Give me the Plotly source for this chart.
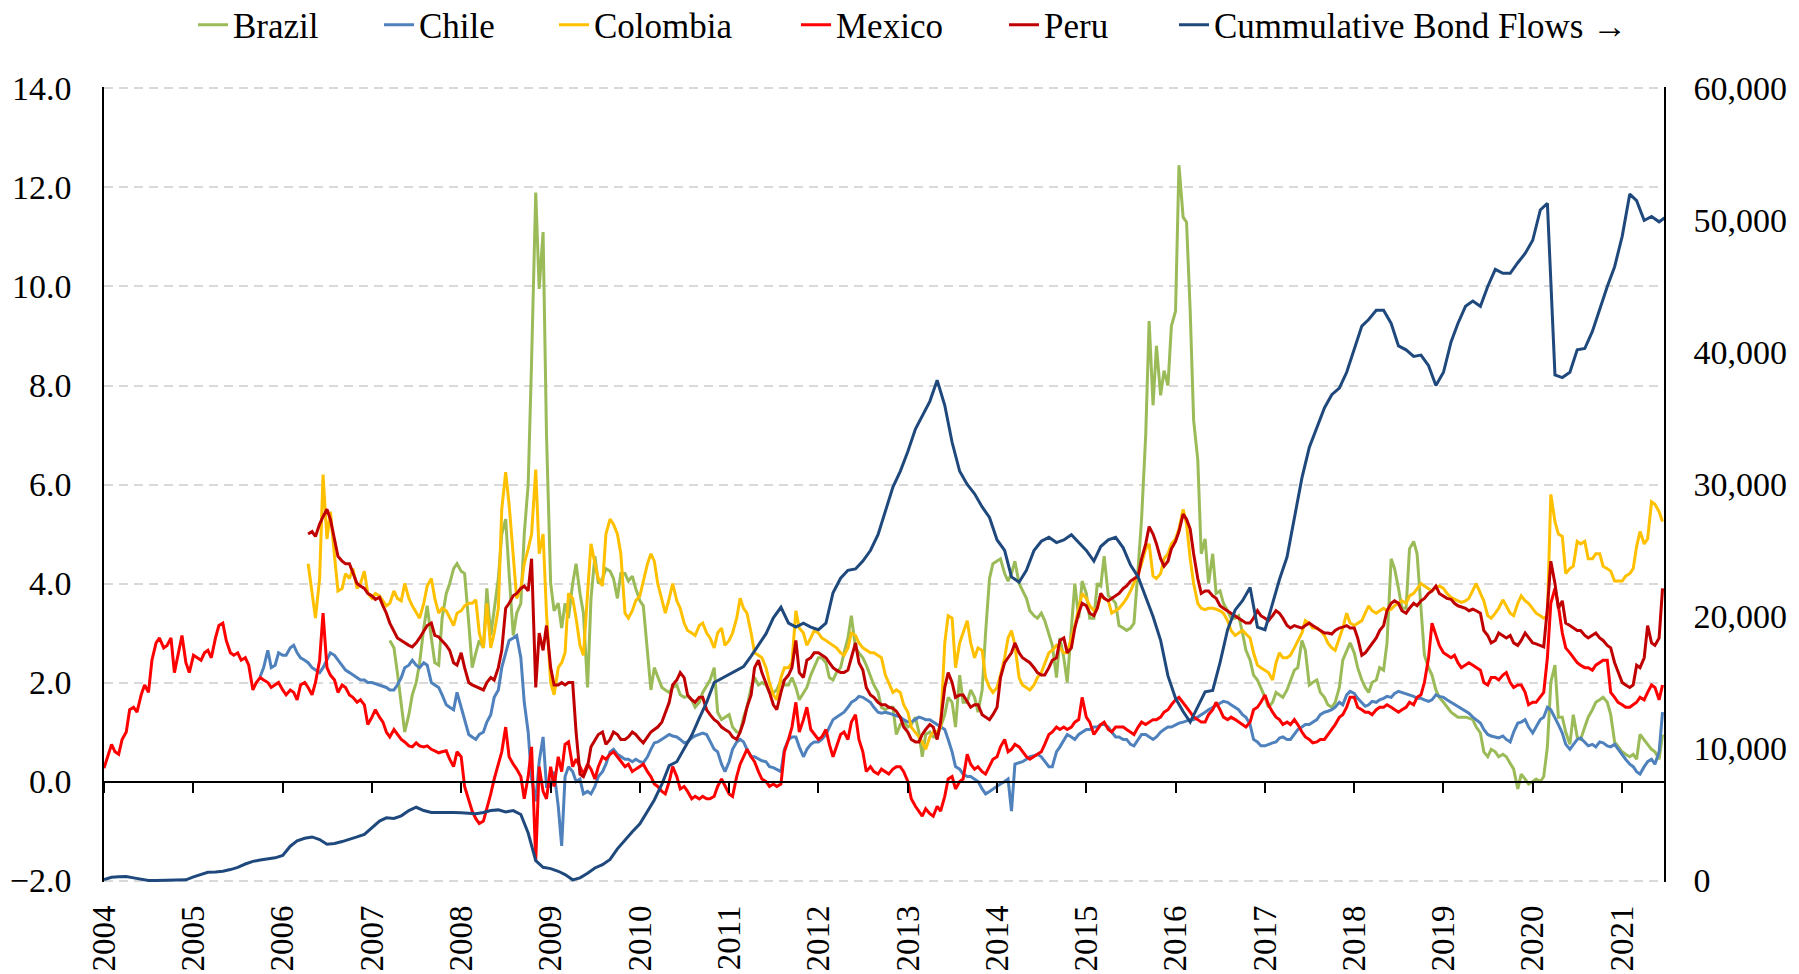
import pandas as pd
import plotly.graph_objects as go

# ---------------- data ----------------
# semi-monthly observations (1st and 15th of each month)
MEXICO_START = "2004-01-01"
MEXICO = [
    0.27, 0.47, 0.75, 0.6, 0.55, 0.85, 1.0, 1.45, 1.5, 1.4, 1.75, 1.95, 1.8, 2.45, 2.8, 2.9, 2.7, 2.75, 2.9, 2.2, 2.6, 2.95, 2.4, 2.2,
    2.55, 2.5, 2.45, 2.6, 2.65, 2.5, 2.9, 3.15, 3.2, 2.85, 2.6, 2.55, 2.6, 2.45, 2.5, 2.35, 1.85, 2.0, 2.1, 2.05, 2.0, 1.9, 1.95, 2.0,
    1.85, 1.75, 1.85, 1.8, 1.65, 1.95, 2.0, 1.9, 1.75, 2.0, 2.45, 3.4, 2.3, 2.15, 2.05, 1.8, 1.95, 1.9, 1.75, 1.7, 1.6, 1.65, 1.55, 1.15,
    1.3, 1.45, 1.3, 1.2, 1.0, 0.9, 1.05, 0.95, 0.85, 0.8, 0.72, 0.7, 0.78, 0.72, 0.7, 0.72, 0.65, 0.62, 0.58, 0.6, 0.62, 0.45, 0.3, 0.6,
    0.5, -0.1, -0.4, -0.6, -0.75, -0.85, -0.8, -0.55, -0.25, 0.05, 0.35, 0.6, 1.1, 0.5, 0.35, 0.25, 0.1, -0.35, 0.1, 0.7, -1.6, 0.3, -0.2, -0.35,
    0.3, -0.1, 0.5, 0.2, 0.75, 0.8, 0.3, 0.45, 0.3, 0.15, 0.35, 0.25, 0.05, 0.3, 0.5, 0.45, 0.55, 0.6, 0.5, 0.4, 0.3, 0.35, 0.2, 0.25,
    0.3, 0.35, 0.2, 0.1, -0.05, -0.1, -0.2, -0.25, 0.0, 0.3, 0.1, -0.15, -0.1, -0.2, -0.35, -0.3, -0.35, -0.3, -0.35, -0.35, -0.3, -0.1, 0.05, -0.1,
    -0.25, -0.3, 0.1, 0.35, 0.5, 0.65, 0.5, 0.4, 0.2, 0.05, 0.0, -0.1, -0.05, -0.1, -0.05, 0.6, 0.85, 1.1, 1.6, 1.0, 1.25, 1.5, 1.05, 0.95,
    0.85, 0.9, 1.05, 0.75, 0.5, 0.7, 0.95, 1.0, 0.85, 1.2, 1.35, 0.85, 0.6, 0.2, 0.3, 0.2, 0.15, 0.25, 0.2, 0.15, 0.25, 0.3, 0.3, 0.2,
    0.0, -0.35, -0.5, -0.6, -0.7, -0.55, -0.65, -0.7, -0.5, -0.6, -0.3, 0.05, 0.1, -0.15, 0.0, 0.05, 0.55, 0.35, 0.25, 0.3, 0.2, 0.15, 0.3, 0.45,
    0.5, 0.7, 0.85, 0.6, 0.65, 0.75, 0.7, 0.6, 0.5, 0.45, 0.5, 0.55, 0.6, 0.75, 0.95, 1.0, 1.1, 1.05, 1.1, 1.05, 1.1, 1.2, 1.25, 1.7,
    1.3, 1.2, 0.95, 1.05, 1.15, 1.2, 1.05, 1.0, 1.1, 1.1, 1.1, 1.05, 1.0, 0.95, 1.1, 1.2, 1.15, 1.2, 1.25, 1.25, 1.3, 1.4, 1.45, 1.55,
    1.65, 1.7, 1.6, 1.5, 1.4, 1.3, 1.25, 1.2, 1.2, 1.35, 1.45, 1.6, 1.45, 1.3, 1.25, 1.3, 1.25, 1.2, 1.15, 1.1, 1.2, 1.45, 1.5, 1.6,
    1.75, 1.55, 1.4, 1.3, 1.25, 1.15, 1.2, 1.15, 1.25, 1.15, 1.0, 0.9, 0.85, 0.78, 0.8, 0.85, 0.85, 0.95, 1.05, 1.15, 1.3, 1.35, 1.5, 1.7,
    1.7, 1.5, 1.45, 1.4, 1.4, 1.35, 1.45, 1.5, 1.5, 1.55, 1.5, 1.45, 1.4, 1.45, 1.5, 1.6, 1.55, 1.7, 1.75, 2.0, 2.5, 3.2, 2.95, 2.75,
    2.6, 2.55, 2.5, 2.55, 2.4, 2.3, 2.35, 2.4, 2.35, 2.3, 2.25, 2.0, 1.95, 2.1, 2.1, 2.05, 2.15, 2.2, 2.0, 1.9, 1.95, 1.95, 1.8, 1.55,
    1.6, 1.6, 1.7, 1.8, 2.5, 3.6, 3.9, 3.55, 3.0, 2.7, 2.6, 2.5, 2.4, 2.35, 2.3, 2.3, 2.25, 2.35, 2.4, 2.45, 2.45, 1.8, 1.7, 1.6,
    1.55, 1.5, 1.5, 1.55, 1.6, 1.7, 1.65, 1.8, 1.95, 1.9, 1.65, 1.95,
]

CHILE_START = "2005-10-01"
CHILE = [
    2.12, 2.3, 2.65, 2.3, 2.35, 2.6,
    2.55, 2.55, 2.7, 2.75, 2.6, 2.5, 2.45, 2.4, 2.3, 2.25, 2.2, 2.3, 2.45, 2.6, 2.55, 2.45, 2.35, 2.25, 2.2, 2.15, 2.1, 2.05, 2.05, 2.0,
    2.0, 1.98, 1.95, 1.92, 1.9, 1.85, 1.85, 1.95, 2.1, 2.3, 2.35, 2.45, 2.35, 2.3, 2.4, 2.35, 2.0, 1.95, 1.9, 1.75, 1.55, 1.5, 1.45, 1.8,
    1.5, 1.2, 0.95, 0.9, 0.85, 0.95, 1.0, 1.2, 1.35, 1.7, 1.85, 2.3, 2.6, 2.85, 2.9, 2.95, 2.5, 1.6, 1.0, 0.05, -0.4, 0.4, 0.9, -0.1,
    -0.1, 0.2, -0.5, -1.3, 0.1, 0.3, 0.2, 0.0, 0.05, -0.25, -0.2, -0.25, -0.1, 0.1, 0.2, 0.35, 0.6, 0.65, 0.55, 0.5, 0.45, 0.45, 0.4, 0.45,
    0.4, 0.38, 0.5, 0.65, 0.78, 0.8, 0.85, 0.9, 0.95, 0.92, 0.9, 0.85, 0.78, 0.8, 0.88, 0.92, 0.95, 0.98, 0.95, 0.8, 0.65, 0.6, 0.35, 0.2,
    0.4, 0.65, 0.8, 0.85, 0.8, 0.65, 0.5, 0.5, 0.45, 0.42, 0.4, 0.3, 0.28, 0.25, 0.2, 0.65, 0.85, 0.9, 0.9, 0.7, 0.5, 0.65, 0.75, 0.8,
    0.8, 0.85, 0.95, 1.1, 1.25, 1.3, 1.35, 1.4, 1.5, 1.6, 1.65, 1.72, 1.7, 1.65, 1.6, 1.5, 1.4, 1.38, 1.4, 1.38, 1.35, 1.32, 1.3, 1.25,
    1.2, 1.2, 1.25, 1.3, 1.28, 1.25, 1.25, 1.2, 1.15, 1.1, 1.05, 0.85, 0.6, 0.3, 0.25, 0.15, 0.1, 0.1, 0.05, 0.0, -0.15, -0.25, -0.2, -0.15,
    -0.1, -0.05, 0.0, 0.05, -0.6, 0.35, 0.38, 0.4, 0.45, 0.5, 0.52, 0.55, 0.5, 0.42, 0.3, 0.3, 0.6, 0.7, 0.85, 0.95, 0.9, 0.85, 0.95, 1.0,
    1.05, 1.05, 1.1, 1.1, 1.15, 1.15, 1.1, 1.0, 0.9, 0.9, 0.85, 0.85, 0.75, 0.72, 0.85, 0.95, 0.95, 0.9, 0.85, 0.9, 1.0, 1.05, 1.1, 1.1,
    1.15, 1.18, 1.2, 1.22, 1.25, 1.25, 1.3, 1.35, 1.4, 1.45, 1.5, 1.55, 1.58, 1.62, 1.6, 1.55, 1.5, 1.45, 1.35, 1.3, 1.15, 0.85, 0.8, 0.72,
    0.72, 0.75, 0.78, 0.8, 0.88, 0.9, 0.85, 0.85, 0.95, 1.05, 1.1, 1.15, 1.15, 1.2, 1.25, 1.35, 1.4, 1.42, 1.45, 1.5, 1.6, 1.55, 1.75, 1.82,
    1.78, 1.68, 1.6, 1.52, 1.55, 1.62, 1.6, 1.65, 1.68, 1.72, 1.7, 1.78, 1.82, 1.8, 1.78, 1.75, 1.72, 1.68, 1.68, 1.65, 1.62, 1.65, 1.75, 1.72,
    1.7, 1.65, 1.6, 1.55, 1.52, 1.48, 1.42, 1.38, 1.3, 1.25, 1.18, 1.05, 0.95, 0.92, 0.9, 0.88, 0.92, 0.85, 0.8, 1.0, 1.18, 1.2, 1.25, 1.1,
    0.98, 1.1, 1.25, 1.3, 1.5, 1.45, 1.3, 1.15, 0.98, 0.75, 0.65, 0.75, 0.85, 0.88, 0.8, 0.72, 0.75, 0.7, 0.8, 0.78, 0.72, 0.7, 0.75, 0.65,
    0.55, 0.45, 0.35, 0.3, 0.2, 0.15, 0.3, 0.4, 0.45, 0.35, 0.6, 1.4,
]

COLOMBIA_START = "2006-04-15"
COLOMBIA = [
    4.4, 3.75, 3.3, 4.1, 6.2, 4.9, 5.45, 4.55, 3.85, 3.9, 4.2, 4.1, 4.3, 3.9, 4.0, 4.25, 3.8,
    3.7, 3.8, 3.75, 3.65, 3.55, 3.6, 3.85, 3.7, 3.65, 4.0, 3.7, 3.55, 3.4, 3.3, 3.6, 3.95, 4.1, 3.7, 3.4, 3.5, 3.45, 3.3, 3.15, 3.4,
    3.45, 3.55, 3.6, 3.6, 3.67, 3.0, 2.7, 3.6, 2.7, 3.0, 3.5, 5.5, 6.25, 5.6, 4.5, 3.7, 3.9, 4.4, 4.7, 5.0, 6.3, 4.6, 5.0, 3.4,
    2.0, 1.75, 2.3, 2.4, 2.6, 3.8, 3.7, 3.3, 2.75, 2.55, 3.8, 4.8, 4.4, 4.1, 3.95, 5.0, 5.3, 5.2, 5.0, 4.6, 3.4, 3.3, 3.45, 3.65,
    3.75, 4.05, 4.4, 4.6, 4.45, 4.0, 3.7, 3.4, 3.7, 4.0, 3.65, 3.5, 3.2, 3.05, 3.0, 2.95, 3.15, 3.2, 3.0, 2.9, 2.7, 3.0, 3.1, 2.75,
    2.85, 3.0, 3.3, 3.7, 3.5, 3.4, 3.0, 2.6, 2.55, 2.5, 2.3, 2.0, 1.75, 1.65, 2.1, 2.3, 2.3, 2.4, 3.45, 3.1, 3.0, 2.75, 2.9, 3.05,
    3.0, 2.9, 2.85, 2.8, 2.75, 2.7, 2.6, 2.55, 2.7, 3.0, 2.95, 2.8, 2.7, 2.65, 2.6, 2.6, 2.55, 2.5, 2.15, 2.0, 1.8, 1.85, 1.8, 1.55,
    1.4, 1.1, 1.0, 0.9, 0.8, 0.65, 0.9, 1.0, 1.0, 1.1, 2.8, 3.35, 3.3, 2.3, 2.8, 3.0, 3.25, 2.8, 2.5, 2.7, 2.65, 2.1, 1.9, 1.8,
    1.9, 2.15, 2.5, 2.9, 3.05, 2.75, 2.1, 1.95, 1.9, 1.85, 1.95, 2.1, 2.2, 2.4, 2.6, 2.65, 2.75, 2.7, 2.6, 2.6, 2.9, 3.15, 3.5, 3.8,
    3.7, 3.55, 3.45, 3.5, 3.75, 3.7, 3.65, 3.4, 3.45, 3.5, 3.6, 3.7, 3.85, 4.0, 4.2, 4.4, 4.7, 4.8, 4.15, 4.1, 4.2, 4.5, 4.6, 4.8,
    4.9, 5.1, 5.5, 5.2, 4.5, 4.0, 3.6, 3.5, 3.47, 3.5, 3.5, 3.48, 3.45, 3.4, 3.25, 3.05, 2.95, 3.0, 3.05, 2.98, 2.9, 2.6, 2.35, 2.3,
    2.25, 2.2, 2.05, 2.4, 2.6, 2.5, 2.5, 2.55, 2.7, 2.85, 3.0, 3.25, 3.2, 3.1, 3.1, 3.05, 2.95, 2.8, 2.7, 2.65, 2.9, 3.1, 3.4, 3.2,
    3.15, 3.2, 3.25, 3.4, 3.55, 3.45, 3.4, 3.45, 3.5, 3.45, 3.48, 3.55, 3.6, 3.65, 3.6, 3.75, 3.8, 3.9, 4.0, 3.95, 3.9, 3.85, 3.92, 3.95,
    3.9, 3.8, 3.72, 3.68, 3.65, 3.62, 3.65, 3.7, 3.85, 4.0, 3.8, 3.65, 3.35, 3.3, 3.4, 3.5, 3.67, 3.55, 3.4, 3.35, 3.6, 3.75, 3.65, 3.6,
    3.5, 3.4, 3.35, 3.3, 3.35, 5.8, 5.25, 5.0, 4.95, 4.2, 4.3, 4.35, 4.85, 4.8, 4.85, 4.5, 4.5, 4.6, 4.6, 4.35, 4.3, 4.25, 4.05, 4.05,
    4.05, 4.15, 4.2, 4.3, 4.75, 5.05, 4.8, 4.9, 5.65, 5.6, 5.45, 5.25,
]

PERU_START = "2006-04-15"
PERU = [
    5.0, 5.05, 4.95, 5.2, 5.35, 5.5, 5.3, 4.9, 4.55, 4.45, 4.4, 4.4, 4.2, 4.0, 3.95, 3.9, 3.8,
    3.75, 3.68, 3.72, 3.55, 3.4, 3.2, 3.05, 2.9, 2.85, 2.8, 2.75, 2.72, 2.8, 2.9, 3.05, 3.15, 3.2, 2.95, 2.92, 2.85, 2.75, 2.65, 2.4, 2.35,
    2.6, 2.3, 2.0, 1.95, 1.92, 1.88, 1.85, 2.0, 2.1, 2.05, 2.3, 2.65, 3.5, 3.6, 3.75, 3.8, 3.9, 3.95, 3.85, 4.5, 1.9, 3.0, 2.65, 3.15,
    2.3, 1.95, 1.95, 2.0, 1.95, 2.0, 2.0, 1.0, 0.15, 0.1, 0.3, 0.7, 0.85, 0.95, 1.0, 0.75, 0.85, 1.0, 0.95, 0.85, 0.85, 0.9, 1.0, 0.95,
    0.85, 0.78, 0.9, 1.0, 1.05, 1.1, 1.2, 1.4, 1.6, 1.95, 2.05, 2.2, 2.1, 1.75, 1.65, 1.6, 1.7, 1.7, 1.45, 1.35, 1.25, 1.2, 1.1, 1.05,
    1.0, 0.9, 0.85, 1.0, 1.2, 1.5, 1.75, 2.3, 2.45, 2.2, 2.0, 1.8, 1.55, 1.45, 1.8, 2.05, 2.15, 2.3, 2.85, 2.2, 2.1, 2.45, 2.5, 2.6,
    2.6, 2.55, 2.5, 2.4, 2.3, 2.25, 2.2, 2.2, 2.25, 2.5, 2.8, 2.4, 2.25, 1.9, 1.75, 1.7, 1.6, 1.55, 1.55, 1.5, 1.48, 1.42, 1.3, 1.1,
    1.0, 0.85, 0.8, 0.8, 0.95, 1.05, 1.15, 1.1, 0.85, 1.2, 1.9, 2.2, 2.0, 1.7, 1.75, 1.75, 1.6, 1.5, 1.55, 1.55, 1.35, 1.3, 1.25, 1.35,
    1.5, 2.1, 2.4, 2.5, 2.6, 2.8, 2.6, 2.5, 2.45, 2.4, 2.3, 2.2, 2.15, 2.15, 2.3, 2.45, 2.5, 2.85, 2.9, 2.6, 2.7, 3.1, 3.4, 3.6,
    3.55, 3.4, 3.35, 3.5, 3.8, 3.7, 3.65, 3.7, 3.75, 3.8, 3.9, 3.95, 4.05, 4.1, 4.15, 4.5, 4.8, 5.15, 5.0, 4.8, 4.5, 4.35, 4.45, 4.7,
    4.85, 5.05, 5.4, 5.3, 5.1, 4.6, 4.1, 3.8, 3.85, 3.85, 3.75, 3.7, 3.55, 3.5, 3.45, 3.4, 3.35, 3.3, 3.25, 3.2, 3.2, 3.3, 3.45, 3.35,
    3.3, 3.25, 3.35, 3.45, 3.4, 3.3, 3.15, 3.1, 3.15, 3.12, 3.1, 3.15, 3.2, 3.15, 3.1, 3.05, 3.0, 3.0, 2.98, 3.05, 3.1, 3.12, 3.15, 3.1,
    3.1, 2.9, 2.55, 2.6, 2.7, 2.8, 2.9, 3.05, 3.15, 3.45, 3.6, 3.65, 3.6, 3.45, 3.4, 3.5, 3.6, 3.55, 3.65, 3.7, 3.8, 3.85, 3.95, 3.8,
    3.75, 3.7, 3.68, 3.6, 3.55, 3.52, 3.5, 3.45, 3.48, 3.45, 3.4, 3.05, 2.95, 2.8, 2.85, 3.0, 2.95, 2.9, 2.95, 2.8, 2.75, 2.85, 3.0, 2.9,
    2.8, 2.78, 2.75, 2.72, 3.5, 4.45, 4.0, 3.5, 3.65, 3.2, 3.15, 3.1, 3.05, 3.05, 2.95, 2.9, 2.95, 3.0, 2.9, 2.85, 2.75, 2.7, 2.4, 2.2,
    2.0, 1.95, 1.9, 1.95, 2.35, 2.3, 2.5, 3.15, 2.8, 2.75, 2.9, 3.9,
]

BRAZIL_START = "2007-03-15"
BRAZIL = [
    2.85, 2.7, 2.2, 1.5, 1.0, 1.35, 1.75, 2.0, 2.4, 3.1, 3.55, 2.9, 2.4, 2.35, 3.3, 3.8, 4.0, 4.3, 4.4,
    4.25, 4.2, 3.2, 2.3, 2.6, 2.85, 2.7, 3.9, 2.95, 3.5, 4.1, 5.0, 5.3, 4.2, 2.95, 3.4, 3.6, 5.0, 6.0, 8.5, 11.9, 9.95, 11.1, 7.0,
    4.0, 3.45, 3.6, 3.1, 3.6, 3.3, 4.0, 4.4, 3.8, 3.4, 1.9, 3.7, 4.55, 4.0, 4.1, 4.3, 4.25, 4.1, 3.7, 4.2, 4.2, 4.05, 4.15, 3.9,
    3.65, 3.55, 2.6, 1.85, 2.3, 2.1, 1.9, 1.85, 1.8, 1.9, 1.95, 1.75, 1.7, 1.72, 1.65, 1.5, 1.6, 1.8, 1.95, 2.05, 2.3, 1.4, 1.25, 1.3,
    1.35, 1.1, 1.0, 1.0, 1.3, 1.5, 1.9, 2.1, 1.95, 2.0, 1.95, 1.8, 1.8, 1.85, 2.05, 1.95, 1.95, 2.1, 1.9, 1.65, 1.8, 1.9, 2.15, 2.3,
    2.5, 2.5, 2.4, 2.1, 2.05, 2.2, 2.3, 2.6, 2.9, 3.35, 2.7, 2.6, 2.5, 2.35, 2.15, 1.95, 1.8, 1.5, 1.45, 1.5, 1.5, 0.95, 1.15, 1.2,
    1.1, 1.15, 1.3, 1.0, 0.5, 0.95, 1.0, 0.9, 0.9, 1.1, 1.35, 1.7, 1.6, 1.1, 2.15, 1.6, 1.6, 1.85, 1.7, 1.4, 1.85, 3.0, 4.1, 4.4,
    4.45, 4.5, 4.2, 4.05, 4.2, 4.45, 4.0, 3.85, 3.7, 3.45, 3.35, 3.3, 3.4, 3.25, 3.0, 2.75, 2.1, 2.9, 2.5, 2.0, 3.1, 4.0, 3.3, 4.05,
    3.8, 3.3, 3.3, 4.0, 3.95, 4.55, 3.75, 3.7, 3.6, 3.15, 3.1, 3.05, 3.1, 3.2, 4.3, 5.3, 7.0, 9.3, 7.6, 8.8, 7.8, 8.3, 8.0, 9.2,
    9.5, 12.45, 11.4, 11.3, 9.5, 7.3, 6.5, 4.6, 4.9, 4.0, 4.6, 3.8, 3.85, 3.6, 3.45, 3.3, 3.3, 3.35, 3.0, 2.65, 2.45, 2.15, 2.05, 1.9,
    1.7, 1.5, 1.6, 1.8, 1.75, 1.7, 1.85, 2.05, 2.25, 2.3, 2.85, 2.65, 1.95, 2.0, 2.05, 1.8, 1.7, 1.55, 1.5, 1.6, 1.9, 2.45, 2.65, 2.8,
    2.6, 2.3, 2.05, 1.9, 1.8, 2.0, 2.05, 2.3, 2.25, 2.8, 4.5, 4.3, 3.9, 3.5, 3.5, 4.7, 4.85, 4.6, 3.5, 2.55, 2.3, 2.15, 1.85, 1.7,
    1.6, 1.5, 1.4, 1.35, 1.3, 1.3, 1.3, 1.28, 1.25, 1.1, 0.98, 0.6, 0.5, 0.65, 0.6, 0.5, 0.55, 0.5, 0.35, 0.25, -0.15, 0.15, 0.05, -0.05,
    0.0, 0.05, 0.0, 0.1, 0.7, 2.0, 2.35, 1.3, 1.3, 1.0, 0.75, 1.35, 0.9, 0.85, 1.1, 1.3, 1.45, 1.6, 1.65, 1.7, 1.6, 1.35, 0.8, 0.7,
    0.6, 0.55, 0.5, 0.55, 0.45, 0.95, 0.85, 0.75, 0.65, 0.6, 0.45, 0.95,
]

# monthly observations (1st of each month), right axis
CUM_START = "2004-01-01"
CUM_FLOWS = [
    80, 250, 280, 300, 200, 80, 0, 0, 0, 0, 0, 50,
    280, 450, 620, 650, 700, 830, 1000, 1250, 1450, 1550, 1650, 1720,
    1900, 2600, 3000, 3200, 3300, 3100, 2750, 2800, 2950, 3100, 3300, 3500,
    4000, 4500, 4750, 4700, 4900, 5300, 5550, 5300, 5150, 5150, 5200, 5150,
    5130, 5100, 5050, 5150, 5300, 5350, 5200, 5300, 5000, 3600, 1500, 1000,
    900, 700, 450, 50, 200, 550, 950, 1200, 1600, 2400, 3100, 3700,
    4300, 5200, 6100, 7300, 8700, 9000, 10000, 11000, 12300, 13500, 15000, 15300,
    15600, 15900, 16200, 17000, 17800, 18700, 19900, 20700, 19500, 19200, 19500, 19200,
    19000, 19500, 21800, 22900, 23500, 23600, 24200, 25000, 26200, 27900, 29800, 31000,
    32500, 34200, 35200, 36300, 37900, 36000, 33200, 31000, 30000, 29300, 28300, 27500,
    25800, 25000, 23000, 22600, 23500, 25000, 25700, 26000, 25600, 25800, 26200, 25600,
    25000, 24200, 25300, 25800, 26000, 25200, 23900, 23000, 21500, 20000, 18200, 15500,
    13800, 12800, 12000, 13200, 14300, 14400, 16500, 19000, 20500, 21200, 22200, 19200,
    19000, 21000, 22800, 24500, 27500, 30500, 32800, 34300, 35800, 36800, 37300, 38500,
    40300, 42000, 42500, 43200, 43200, 42200, 40500, 40200, 39700, 39800, 39000, 37500,
    38500, 40800, 42200, 43500, 43900, 43500, 45000, 46300, 46000, 46000, 46800, 47500,
    48500, 50800, 51300, 38300, 38100, 38500, 40200, 40300, 41600, 43300, 45000, 46500,
    48800, 52000, 51500, 50000, 50300, 49900, 50300,
]

YEARS = list(range(2004, 2022))
LEFT_TICKS = [-2, 0, 2, 4, 6, 8, 10, 12, 14]
RIGHT_TICKS = [0, 10000, 20000, 30000, 40000, 50000, 60000]
X_RANGE = ["2004-01-01", "2021-06-21"]

# ---------------- figure ----------------
FONT = "Liberation Serif, Times New Roman, DejaVu Serif, serif"
LW = 3
W, H = 1799, 974


def semi_monthly(start, vals):
    return pd.date_range(start, periods=len(vals), freq="SMS")


series = [
    ("Brazil", semi_monthly(BRAZIL_START, BRAZIL), BRAZIL, "#9BBB59", "y"),
    ("Chile", semi_monthly(CHILE_START, CHILE), CHILE, "#4F81BD", "y"),
    ("Colombia", semi_monthly(COLOMBIA_START, COLOMBIA), COLOMBIA, "#FFC000", "y"),
    ("Mexico", semi_monthly(MEXICO_START, MEXICO), MEXICO, "#FF0000", "y"),
    ("Peru", semi_monthly(PERU_START, PERU), PERU, "#C00000", "y"),
    ("Cummulative Bond Flows \u2192", pd.date_range(CUM_START, periods=len(CUM_FLOWS), freq="MS"),
     CUM_FLOWS, "#1F497D", "y2"),
]
# legend text start positions (px from the left of the page)
LEGEND_TEXT_X = [233, 419, 594, 836, 1044, 1214]

fig = go.Figure()
legend_layouts = {}
for i, (name, xs, vals, color, yax) in enumerate(series):
    key = "legend" if i == 0 else f"legend{i + 1}"
    fig.add_trace(go.Scatter(
        x=xs, y=vals, name=name, mode="lines",
        line=dict(color=color, width=LW), xaxis="x", yaxis=yax, legend=key,
    ))
    legend_layouts[key] = dict(
        orientation="h", xref="container", yref="container",
        x=(LEGEND_TEXT_X[i] - 40) / W, xanchor="left",
        y=1 - 25 / H, yanchor="middle",
        font=dict(family=FONT, size=35, color="black"),
        bgcolor="rgba(0,0,0,0)", borderwidth=0,
    )

# helper (invisible) trace so the zero-crossing category axis is drawn
fig.add_trace(go.Scatter(x=[X_RANGE[0]], y=[None], xaxis="x2", yaxis="y",
                         showlegend=False, hoverinfo="skip", mode="lines"))

tickvals_x = [f"{y}-01-01" for y in YEARS]
EPS = 0.03  # small padding so the end gridlines (-2, 14) are drawn

fig.update_layout(
    width=W, height=H,
    margin=dict(l=104, r=135, t=87, b=92, autoexpand=False),
    paper_bgcolor="white", plot_bgcolor="white",
    font=dict(family=FONT, size=34, color="black"),
    xaxis=dict(
        type="date", range=X_RANGE, tickvals=tickvals_x, ticktext=[str(y) for y in YEARS],
        tickangle=-90, showgrid=False, showline=False, zeroline=False, ticks="",
        ticklabelstandoff=16, tickfont=dict(family=FONT, size=33),
    ),
    xaxis2=dict(
        type="date", range=X_RANGE, overlaying="x", anchor="free",
        position=(0 - (-2 - EPS)) / (16 + 2 * EPS),
        tickvals=tickvals_x, showticklabels=False, ticks="outside", ticklen=10,
        tickwidth=1.5, tickcolor="black", showline=True, linecolor="black", linewidth=2,
        showgrid=False, zeroline=False,
    ),
    yaxis=dict(
        range=[-2 - EPS, 14 + EPS], tickvals=LEFT_TICKS, tickformat=".1f", showgrid=True,
        gridcolor="#D9D9D9", gridwidth=1.5, griddash="9px,6px", zeroline=False,
        showline=True, linecolor="black", linewidth=1.5, ticks="",
        ticklabelstandoff=24, tickfont=dict(family=FONT, size=34),
    ),
    yaxis2=dict(
        range=[-EPS * 3750, 60000 + EPS * 3750], tickvals=RIGHT_TICKS, tickformat=",",
        overlaying="y", side="right",
        showgrid=False, zeroline=False, showline=True, linecolor="black", linewidth=1.5,
        ticks="", ticklabelstandoff=21, tickfont=dict(family=FONT, size=34),
    ),
    **legend_layouts,
)

fig.write_html(
    "out.html",
    config={"displayModeBar": False},
    post_script="document.body.style.margin='0px';document.body.style.overflow='hidden';",
)
